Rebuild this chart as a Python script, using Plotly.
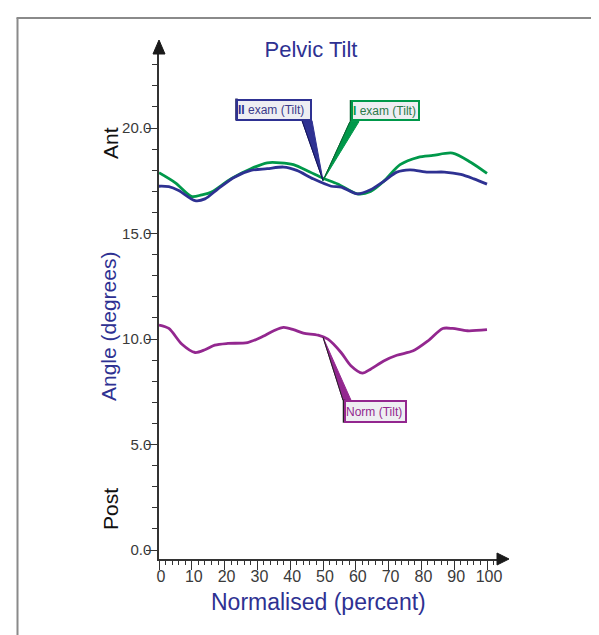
import numpy as np
import plotly.graph_objects as go

# ---------------- data ----------------
title_text = "Pelvic Tilt"
x_title = "Normalised (percent)"
y_title = "Angle (degrees)"

exam1_name = "I exam (Tilt)"
exam1_x = [0, 5, 10, 13, 16, 22, 28, 33, 37, 41, 46, 50, 54.5, 60.5, 64.5, 68.5, 73.5, 79, 83.5, 89.5, 95, 100]
exam1_y = [17.88, 17.4, 16.75, 16.83, 16.96, 17.6, 18.07, 18.35, 18.35, 18.26, 17.91, 17.62, 17.35, 16.88,
           16.99, 17.47, 18.26, 18.61, 18.70, 18.81, 18.38, 17.85]

exam2_name = "II exam (Tilt)"
exam2_x = [0, 3, 6, 11, 14, 18, 23, 28, 33, 38, 42, 47, 52.5, 55.5, 60.5, 64.5, 68.5, 72.5, 76.5, 82, 87,
           92, 96, 100]
exam2_y = [17.24, 17.22, 17.04, 16.56, 16.64, 17.12, 17.67, 17.99, 18.07, 18.15, 17.99, 17.59, 17.24, 17.2,
           16.88, 17.07, 17.47, 17.91, 18.02, 17.91, 17.91, 17.8, 17.59, 17.34]

norm_name = "Norm (Tilt)"
norm_x = [0, 3, 7, 11, 14, 17, 21, 27, 31, 35, 38, 41, 44, 48.5, 51.5, 55.5, 58.5, 62, 64.5, 68.5, 72.5,
          77.5, 82, 86.5, 89.5, 94, 100]
norm_y = [10.66, 10.5, 9.75, 9.36, 9.49, 9.71, 9.79, 9.83, 10.07, 10.39, 10.55, 10.44, 10.28, 10.18, 9.99,
          9.36, 8.73, 8.38, 8.57, 8.96, 9.23, 9.44, 9.91, 10.5, 10.5, 10.39, 10.44]

callout_x = 50  # percent where the callouts point

# ---------------- style ----------------
GREEN = "#00984a"
BLUE = "#2e3192"
PURPLE = "#93278f"
FONT = "Liberation Sans, Arial, sans-serif"
AX = "#333333"

W, H = 599, 635
L, R, T, B = 151, 109, 45, 84
PW, PH = W - L - R, H - T - B
X_PX = 3.28        # pixels per percent
Y_PX = 21.1        # pixels per degree
Y0_PX = 542        # pixel row of 0 degrees

fig = go.Figure()
for xs, ys, name, col in [(norm_x, norm_y, norm_name, PURPLE),
                          (exam1_x, exam1_y, exam1_name, GREEN),
                          (exam2_x, exam2_y, exam2_name, BLUE)]:
    fig.add_trace(go.Scatter(x=xs, y=ys, mode="lines", name=name,
                             line=dict(color=col, width=2.8, shape="spline", smoothing=0.8),
                             hoverinfo="skip"))

shapes = []
annots = []


def px_to_paper_x(px):
    return (px - L) / PW


def px_to_paper_y(py):
    return (H - B - py) / PH


# frame
shapes.append(dict(type="line", xref="paper", yref="paper",
                   x0=px_to_paper_x(9.5), x1=px_to_paper_x(9.5),
                   y0=px_to_paper_y(10), y1=px_to_paper_y(645),
                   line=dict(color="#8a8a8a", width=2)))
shapes.append(dict(type="line", xref="paper", yref="paper",
                   x0=px_to_paper_x(8.5), x1=px_to_paper_x(610),
                   y0=px_to_paper_y(10), y1=px_to_paper_y(10),
                   line=dict(color="#8a8a8a", width=2)))

# axis arrowheads
shapes.append(dict(type="path", xref="paper", yref="paper", xsizemode="pixel", ysizemode="pixel",
                   xanchor=0, yanchor=1, path="M-6,-1 L6,-1 L0,13 Z",
                   fillcolor="#1a1a1a", line=dict(color="#1a1a1a", width=1)))
shapes.append(dict(type="path", xref="paper", yref="paper", xsizemode="pixel", ysizemode="pixel",
                   xanchor=1, yanchor=0, path="M-1,6 L-1,-6 L11,0 Z",
                   fillcolor="#1a1a1a", line=dict(color="#1a1a1a", width=1)))


def callout(anchor_y, col, edge, wedge, box_dx, box_dy, bw, bh, label_html, text_col):
    (ax1, ay1), (ax2, ay2) = wedge
    shapes.append(dict(type="path", xref="x", yref="y", xsizemode="pixel", ysizemode="pixel",
                       xanchor=callout_x, yanchor=anchor_y,
                       path=f"M0,0 L{ax1},{ay1} L{ax2},{ay2} Z",
                       fillcolor=col, line=dict(color=col, width=1)))
    shapes.append(dict(type="path", xref="x", yref="y", xsizemode="pixel", ysizemode="pixel",
                       xanchor=callout_x, yanchor=anchor_y,
                       path=f"M0,0 L{ax1},{ay1}",
                       line=dict(color=edge, width=1)))
    annots.append(dict(x=callout_x, y=anchor_y, xref="x", yref="y", showarrow=False,
                       xanchor="center", yanchor="middle",
                       xshift=box_dx, yshift=box_dy, width=bw, height=bh,
                       text=label_html, align="left", bgcolor="#eeeef2",
                       bordercolor=col, borderwidth=2, borderpad=0,
                       font=dict(family=FONT, size=12, color=text_col)))
    shapes.append(dict(type="line", xref="x", yref="y", xsizemode="pixel", ysizemode="pixel",
                       xanchor=callout_x, yanchor=anchor_y,
                       x0=box_dx - bw / 2 - 1.5, x1=box_dx - bw / 2 - 1.5,
                       y0=box_dy - bh / 2 - 2, y1=box_dy + bh / 2 + 2,
                       line=dict(color=edge, width=2.5)))


top_anchor = float(np.interp(callout_x, exam1_x, exam1_y) + np.interp(callout_x, exam2_x, exam2_y)) / 2
norm_anchor = float(np.interp(callout_x, norm_x, norm_y))

callout(top_anchor, BLUE, "#111155", [(-21, 60), (-11, 60)], -49, 71, 72, 18,
        f"<b style='color:{BLUE}'>II</b> exam (Tilt)", "#3a3a8a")
callout(top_anchor, GREEN, "#0b5e2e", [(27, 59), (36, 59)], 62, 70, 65, 17,
        f"<b style='color:{GREEN}'>I</b> exam (Tilt)", "#2c7a4a")
callout(norm_anchor, PURPLE, "#222222", [(20, -63), (28, -63)], 52, -74, 59, 19,
        norm_name, PURPLE)

# texts around axes
annots.append(dict(x=px_to_paper_x(100), y=px_to_paper_y(319), xref="paper", yref="paper",
                   xanchor="center", yanchor="middle",
                   text=y_title, textangle=-90, showarrow=False,
                   font=dict(family=FONT, size=21, color=BLUE)))
annots.append(dict(x=px_to_paper_x(102), y=px_to_paper_y(135), xref="paper", yref="paper",
                   xanchor="center", yanchor="middle",
                   text="Ant", textangle=-90, showarrow=False,
                   font=dict(family=FONT, size=21, color="#111111")))
annots.append(dict(x=px_to_paper_x(102), y=px_to_paper_y(501), xref="paper", yref="paper",
                   xanchor="center", yanchor="middle",
                   text="Post", textangle=-90, showarrow=False,
                   font=dict(family=FONT, size=21, color="#111111")))
annots.append(dict(x=px_to_paper_x(310), y=px_to_paper_y(594), xref="paper", yref="paper",
                   xanchor="center", yanchor="middle",
                   text=x_title, showarrow=False,
                   font=dict(family=FONT, size=23, color=BLUE)))

y_min = -((H - B) - Y0_PX) / Y_PX
y_max = (Y0_PX - T) / Y_PX
x_max = PW / X_PX

fig.update_layout(
    width=W, height=H,
    margin=dict(l=L, r=R, t=T, b=B),
    paper_bgcolor="white", plot_bgcolor="white",
    showlegend=False,
    title=dict(text=title_text, x=303 / W, xanchor="center", y=1 - 41 / H, yanchor="middle",
               font=dict(family=FONT, size=22, color=BLUE)),
    font=dict(family=FONT),
    shapes=shapes,
    annotations=annots,
    xaxis=dict(range=[0, x_max], showgrid=False, zeroline=False,
               showline=True, linecolor=AX, linewidth=1.5,
               tickmode="linear", tick0=0, dtick=10,
               ticks="outside", ticklen=9, tickwidth=1.2, tickcolor=AX,
               minor=dict(ticks="outside", dtick=2, tick0=0, ticklen=4, tickwidth=1, tickcolor=AX),
               tickfont=dict(family=FONT, size=16, color="#3a3a3a"),
               ticklabelshift=2, ticklabelstandoff=-7),
    yaxis=dict(range=[y_min, y_max], showgrid=False, zeroline=False,
               showline=True, linecolor=AX, linewidth=1.5,
               tickmode="linear", tick0=0, dtick=5, tickformat=".1f",
               ticks="outside", ticklen=11, tickwidth=1.2, tickcolor=AX,
               minor=dict(ticks="outside", dtick=1, tick0=0, ticklen=5, tickwidth=1, tickcolor=AX),
               tickfont=dict(family=FONT, size=15, color="#3a3a3a"),
               ticklabelstandoff=-8),
)

fig.write_html("out.html")
